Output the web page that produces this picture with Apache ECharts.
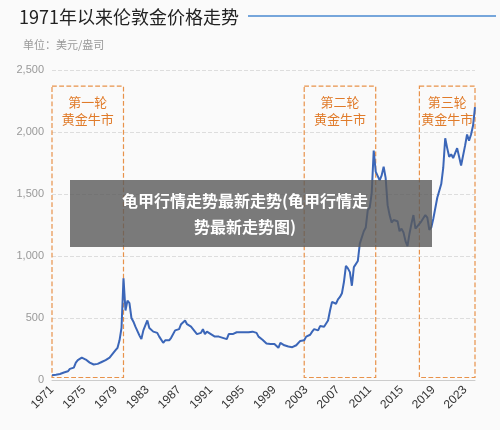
<!DOCTYPE html>
<html><head><meta charset="utf-8">
<script src="https://cdn.jsdelivr.net/npm/echarts@6/dist/echarts.min.js"></script>
<style>body{margin:0;background:#fafafa}#c{width:500px;height:430px}</style>
</head><body><div id="c"></div>
<script>
const startYear = 1971;
const prices = [
38,40,42,43, 48,50,60,63, 70,90,100,100, 140,160,150,180, 175,165,150,140,
130,125,110,130, 140,145,145,160, 175,180,200,220, 240,260,320,420, 820,560,640,620,
500,470,430,420, 360,330,400,440, 480,420,420,390, 380,380,350,340, 300,320,330,320,
340,340,400,410, 410,450,460,480, 450,450,430,410, 400,370,360,380, 410,370,390,380,
370,360,350,360, 350,340,340,335, 330,370,370,370, 385,385,390,385, 380,385,385,385,
400,390,385,380, 350,340,325,310, 295,300,290,295, 290,280,260,300, 290,280,275,270,
265,265,275,280, 290,315,315,320, 350,350,365,390, 410,395,400,435, 430,430,440,480,
560,630,620,615, 650,670,700,790, 920,900,870,760, 910,920,960,1100, 1110,1200,1230,1370,
1390,1510,1850,1680, 1690,1610,1650,1720, 1630,1410,1330,1270, 1290,1290,1280,1200, 1220,1190,1120,1080,
1180,1260,1330,1220, 1220,1260,1280,1275, 1330,1310,1210,1230, 1300,1310,1470,1480, 1580,1710,1950,1870,
1800,1820,1790,1800, 1870,1870,1730,1730, 1890,1980,1930,1980, 2050,2200
];
const categories = prices.map((v,i)=> (startYear+Math.floor(i/4)) + 'Q' + (i%4+1));
const yTicks = [0,500,1000,1500,2000,2500];
const bullMarkets = [
  {name:'第一轮\n黄金牛市', from:'1971Q1', to:'1980Q1'},
  {name:'第二轮\n黄金牛市', from:'2002Q4', to:'2011Q4'},
  {name:'第三轮\n黄金牛市', from:'2017Q2', to:'2024Q2'}
];
const chart = echarts.init(document.getElementById('c'));
chart.setOption({
  backgroundColor:'#fafafa',
  animation:false,
  title:[
    {text:'1971年以来伦敦金价格走势', left:14, top:3, textStyle:{fontSize:18, fontWeight:'normal', color:'#222', fontFamily:'Noto Sans CJK SC'}},
    {text:'单位：美元/盎司', left:18, top:34, textStyle:{fontSize:11, fontWeight:'normal', color:'#999', fontFamily:'Noto Sans CJK SC'}}
  ],
  graphic:[
    {type:'line', shape:{x1:248,y1:16,x2:496,y2:16}, style:{stroke:'#4a8ad0', lineWidth:1.5}},
    {type:'rect', shape:{x:70,y:180,width:362,height:67}, style:{fill:'rgba(90,90,90,0.8)'}, z:100},
    {type:'text', x:245, y:188, z:101, style:{text:'龟甲行情走势最新走势(龟甲行情走\n势最新走势图)', fill:'#fff', font:'bold 16px "Noto Sans CJK SC"', align:'center', verticalAlign:'top', lineHeight:26}}
  ],
  grid:{left:52, right:25, top:70, bottom:50},
  xAxis:{type:'category', data:categories, boundaryGap:false,
    axisLine:{lineStyle:{color:'#ccc'}}, axisTick:{show:false},
    axisLabel:{interval:(i)=>i%16===0, rotate:45, color:'#333', fontSize:12, formatter:(v)=>v.slice(0,4), margin:8}},
  yAxis:{type:'value', min:0, max:2500, interval:500,
    axisLine:{show:false}, axisTick:{show:false},
    splitLine:{lineStyle:{type:'dashed', color:'#ddd'}},
    axisLabel:{color:'#999', fontSize:11, formatter:(v)=>v.toLocaleString('en-US')}},
  series:[{type:'line', data:prices, symbol:'none', lineStyle:{color:'#3b66b8', width:2},
    markArea:{silent:true,
      itemStyle:{color:'rgba(0,0,0,0)', borderColor:'#e8924a', borderWidth:1.2, borderType:'dashed'},
      label:{position:'insideTop', color:'#e07b2a', fontSize:13, lineHeight:17, distance:8, fontFamily:'Noto Sans CJK SC'},
      data:bullMarkets.map(b=>[{name:b.name, xAxis:b.from, yAxis:2370},{xAxis:b.to, yAxis:20}])
    }
  }]
});
</script></body></html>
